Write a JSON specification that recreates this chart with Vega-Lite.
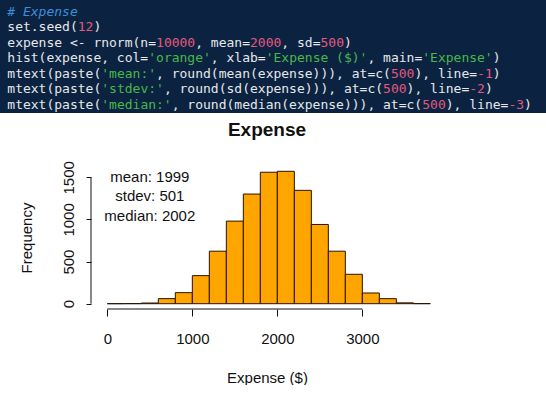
{
  "$schema": "https://vega.github.io/schema/vega-lite/v6.json",
  "padding": 0,
  "background": "white",
  "bounds": "flush",
  "center": true,
  "spacing": 53,
  "config": {"view": {"stroke": null}, "font": "Liberation Sans"},
  "datasets": {
    "code": [
      {"line": 0, "col": 0, "seg": "# Expense", "kind": "comment"},
      {"line": 1, "col": 0, "seg": "set.seed(", "kind": "plain"},
      {"line": 1, "col": 9, "seg": "12", "kind": "number"},
      {"line": 1, "col": 11, "seg": ")", "kind": "plain"},
      {"line": 2, "col": 0, "seg": "expense <- rnorm(n=", "kind": "plain"},
      {"line": 2, "col": 19, "seg": "10000", "kind": "number"},
      {"line": 2, "col": 24, "seg": ", mean=", "kind": "plain"},
      {"line": 2, "col": 31, "seg": "2000", "kind": "number"},
      {"line": 2, "col": 35, "seg": ", sd=", "kind": "plain"},
      {"line": 2, "col": 40, "seg": "500", "kind": "number"},
      {"line": 2, "col": 43, "seg": ")", "kind": "plain"},
      {"line": 3, "col": 0, "seg": "hist(expense, col=", "kind": "plain"},
      {"line": 3, "col": 18, "seg": "'orange'", "kind": "string"},
      {"line": 3, "col": 26, "seg": ", xlab=", "kind": "plain"},
      {"line": 3, "col": 33, "seg": "'Expense ($)'", "kind": "string"},
      {"line": 3, "col": 46, "seg": ", main=", "kind": "plain"},
      {"line": 3, "col": 53, "seg": "'Expense'", "kind": "string"},
      {"line": 3, "col": 62, "seg": ")", "kind": "plain"},
      {"line": 4, "col": 0, "seg": "mtext(paste(", "kind": "plain"},
      {"line": 4, "col": 12, "seg": "'mean:'", "kind": "string"},
      {"line": 4, "col": 19, "seg": ", round(mean(expense))), at=c(", "kind": "plain"},
      {"line": 4, "col": 49, "seg": "500", "kind": "number"},
      {"line": 4, "col": 52, "seg": "), line=", "kind": "plain"},
      {"line": 4, "col": 60, "seg": "-1", "kind": "number"},
      {"line": 4, "col": 62, "seg": ")", "kind": "plain"},
      {"line": 5, "col": 0, "seg": "mtext(paste(", "kind": "plain"},
      {"line": 5, "col": 12, "seg": "'stdev:'", "kind": "string"},
      {"line": 5, "col": 20, "seg": ", round(sd(expense))), at=c(", "kind": "plain"},
      {"line": 5, "col": 48, "seg": "500", "kind": "number"},
      {"line": 5, "col": 51, "seg": "), line=", "kind": "plain"},
      {"line": 5, "col": 59, "seg": "-2", "kind": "number"},
      {"line": 5, "col": 61, "seg": ")", "kind": "plain"},
      {"line": 6, "col": 0, "seg": "mtext(paste(", "kind": "plain"},
      {"line": 6, "col": 12, "seg": "'median:'", "kind": "string"},
      {"line": 6, "col": 21, "seg": ", round(median(expense))), at=c(", "kind": "plain"},
      {"line": 6, "col": 53, "seg": "500", "kind": "number"},
      {"line": 6, "col": 56, "seg": "), line=", "kind": "plain"},
      {"line": 6, "col": 64, "seg": "-3", "kind": "number"},
      {"line": 6, "col": 66, "seg": ")", "kind": "plain"}
    ],
    "hist": [
      {"bin_start": 0, "bin_end": 200, "count": 0},
      {"bin_start": 200, "bin_end": 400, "count": 1},
      {"bin_start": 400, "bin_end": 600, "count": 8},
      {"bin_start": 600, "bin_end": 800, "count": 60},
      {"bin_start": 800, "bin_end": 1000, "count": 131},
      {"bin_start": 1000, "bin_end": 1200, "count": 333},
      {"bin_start": 1200, "bin_end": 1400, "count": 623},
      {"bin_start": 1400, "bin_end": 1600, "count": 980},
      {"bin_start": 1600, "bin_end": 1800, "count": 1301},
      {"bin_start": 1800, "bin_end": 2000, "count": 1560},
      {"bin_start": 2000, "bin_end": 2200, "count": 1571},
      {"bin_start": 2200, "bin_end": 2400, "count": 1345},
      {"bin_start": 2400, "bin_end": 2600, "count": 940},
      {"bin_start": 2600, "bin_end": 2800, "count": 623},
      {"bin_start": 2800, "bin_end": 3000, "count": 349},
      {"bin_start": 3000, "bin_end": 3200, "count": 127},
      {"bin_start": 3200, "bin_end": 3400, "count": 60},
      {"bin_start": 3400, "bin_end": 3600, "count": 10},
      {"bin_start": 3600, "bin_end": 3800, "count": 1}
    ]
  },
  "vconcat": [
    {
      "width": 546,
      "height": 113,
      "view": {"fill": "#0b2341", "stroke": null},
      "data": {"name": "code"},
      "encoding": {
        "x": {"field": "col", "type": "quantitative", "scale": {"domain": [0, 68], "range": [7.3, 539.7]}, "axis": null},
        "y": {"field": "line", "type": "quantitative", "scale": {"domain": [0, 6], "range": [11.5, 104.5]}, "axis": null},
        "text": {"field": "seg"},
        "color": {"field": "kind", "type": "nominal", "scale": {"domain": ["comment", "plain", "number", "string"], "range": ["#3d8fdc", "#e6e8ea", "#e5587e", "#46b948"]}, "legend": null}
      },
      "layer": [
        {"transform": [{"filter": "datum.kind !== 'comment'"}], "mark": {"type": "text", "font": "DejaVu Sans Mono", "fontSize": 13, "align": "left", "baseline": "middle"}},
        {"transform": [{"filter": "datum.kind === 'comment'"}], "mark": {"type": "text", "font": "DejaVu Sans Mono", "fontSize": 13, "fontStyle": "italic", "align": "left", "baseline": "middle"}}
      ]
    },
    {
      "width": 364,
      "height": 143,
      "title": {"text": "Expense", "font": "Liberation Sans", "fontSize": 19, "fontWeight": "bold", "color": "#111", "frame": "group", "offset": 21, "dx": -6},
      "layer": [
        {
          "data": {"name": "hist"},
          "mark": {"type": "rect", "fill": "#FFA500", "stroke": "#2a1200", "strokeWidth": 1},
          "encoding": {
            "x": {"field": "bin_start", "type": "quantitative", "scale": {"domain": [-192, 4090], "nice": false, "zero": false},
              "axis": {"title": "Expense ($)", "values": [0, 1000, 2000, 3000], "format": "d", "domain": false, "grid": false, "tickSize": 7, "tickColor": "#111", "labelFont": "Liberation Sans", "labelFontSize": 15, "labelColor": "#111", "labelPadding": 15, "labelFlush": false, "labelOverlap": false, "titleFont": "Liberation Sans", "titleFontSize": 15, "titleFontWeight": "normal", "titleColor": "#111", "titlePadding": 24, "titleX": 176}},
            "x2": {"field": "bin_end"},
            "y": {"field": "count", "type": "quantitative", "scale": {"domain": [-63, 1634], "nice": false, "zero": false},
              "axis": {"title": "Frequency", "values": [0, 500, 1000, 1500], "format": "d", "domain": false, "grid": false, "tickSize": 5, "tickColor": "#111", "labelAngle": 270, "labelAlign": "center", "labelBaseline": "bottom", "labelFont": "Liberation Sans", "labelFontSize": 15, "labelColor": "#111", "labelPadding": 10, "labelFlush": false, "labelOverlap": false, "titleFont": "Liberation Sans", "titleFontSize": 15, "titleFontWeight": "normal", "titleColor": "#111", "titlePadding": 27}},
            "y2": {"datum": 0}
          }
        },
        {
          "data": {"values": [{}]},
          "mark": {"type": "rule", "color": "#111", "strokeWidth": 1},
          "encoding": {"x": {"datum": 0}, "x2": {"datum": 3000}, "y": {"datum": -63}}
        },
        {
          "data": {"values": [{}]},
          "mark": {"type": "rule", "color": "#111", "strokeWidth": 1},
          "encoding": {"x": {"datum": -192}, "y": {"datum": 0}, "y2": {"datum": 1500}}
        },
        {
          "data": {"values": [{}]},
          "mark": {"type": "text", "font": "Liberation Sans", "fontSize": 15, "align": "center", "baseline": "top", "lineHeight": 19.5, "color": "#111", "text": ["mean: 1999", "stdev: 501", "median: 2002"]},
          "encoding": {"x": {"datum": 500}, "y": {"datum": 1590}}
        }
      ]
    }
  ]
}
